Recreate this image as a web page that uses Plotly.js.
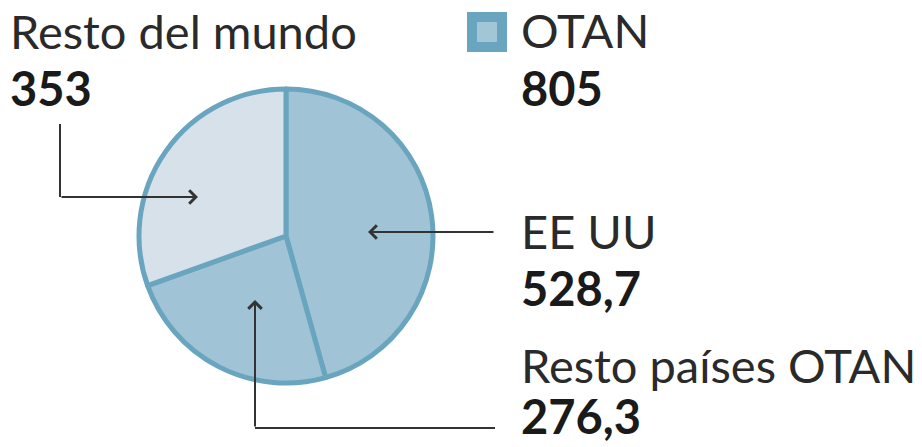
<!DOCTYPE html>
<html>
<head>
<meta charset="utf-8">
<script src="https://cdn.plot.ly/plotly-3.0.1.min.js"></script>
<style>html,body{margin:0;padding:0;background:#fff;}#chart{width:922px;height:447px;}</style>
</head>
<body>
<div id="chart"></div>
<script>
// Data
const labels = ["EE UU", "Resto países OTAN", "Resto del mundo"];
const values = [528.7, 276.3, 353];
const valueLabels = ["528,7", "276,3", "353"];
const groupLabel = "OTAN";
const groupValue = "805";

const W = 922, H = 447;
const px = x => x / W;
const py = y => 1 - y / H;

const sliceColors = ["#a0c4d6", "#a0c4d6", "#d6e1e9"];
const borderColor = "#6aa5c0";
const ink = "#2a2a2a";
const font = "Lato, 'Open Sans', sans-serif";

const trace = {
  type: "pie",
  values: values,
  labels: labels,
  sort: false,
  direction: "clockwise",
  rotation: 0,
  textinfo: "none",
  hoverinfo: "label+value",
  marker: { colors: sliceColors, line: { color: borderColor, width: 5 } },
  domain: { x: [px(139), px(433)], y: [py(383), py(89)] },
  showlegend: false
};

function label(x, y, text, bold) {
  return {
    xref: "paper", yref: "paper", x: px(x), y: py(y),
    xanchor: "left", yanchor: "middle", showarrow: false,
    text: bold ? "<b>" + text + "</b>" : text,
    font: { family: font, size: 47, color: bold ? "#1a1a1a" : ink }
  };
}
function arrow(hx, hy, tx, ty) {
  return {
    xref: "paper", yref: "paper", x: px(hx), y: py(hy),
    axref: "pixel", ayref: "pixel", ax: tx - hx, ay: ty - hy,
    showarrow: true, arrowhead: 4, arrowsize: 1.3, arrowwidth: 2,
    arrowcolor: "#333", text: "", standoff: 0
  };
}
function seg(x0, y0, x1, y1) {
  return { type: "line", xref: "paper", yref: "paper",
    x0: px(x0), y0: py(y0), x1: px(x1), y1: py(y1),
    line: { color: "#333", width: 2 } };
}

const annotations = [
  label(8, 31, labels[2], false),
  label(8, 88, valueLabels[2], true),
  label(519, 30, groupLabel, false),
  label(519, 88, groupValue, true),
  label(519, 231, labels[0], false),
  label(519, 288, valueLabels[0], true),
  label(519, 365, labels[1], false),
  label(519, 416, valueLabels[1], true),
  arrow(198, 197, 60, 197),
  arrow(368, 232, 495, 232),
  arrow(255, 300, 255, 428)
];

const shapes = [
  seg(60, 124, 60, 197),
  seg(255, 428, 495, 428),
  { type: "rect", xref: "paper", yref: "paper", x0: px(467), x1: px(507), y0: py(52), y1: py(12),
    fillcolor: borderColor, line: { width: 0 } },
  { type: "rect", xref: "paper", yref: "paper", x0: px(477), x1: px(497), y0: py(42), y1: py(22),
    fillcolor: "#a3c6d7", line: { width: 0 } }
];

const layout = {
  width: W, height: H,
  margin: { l: 0, r: 0, t: 0, b: 0 },
  paper_bgcolor: "#ffffff",
  showlegend: false,
  annotations: annotations,
  shapes: shapes
};

Plotly.newPlot("chart", [trace], layout, { displayModeBar: false, staticPlot: true });
</script>
</body>
</html>
